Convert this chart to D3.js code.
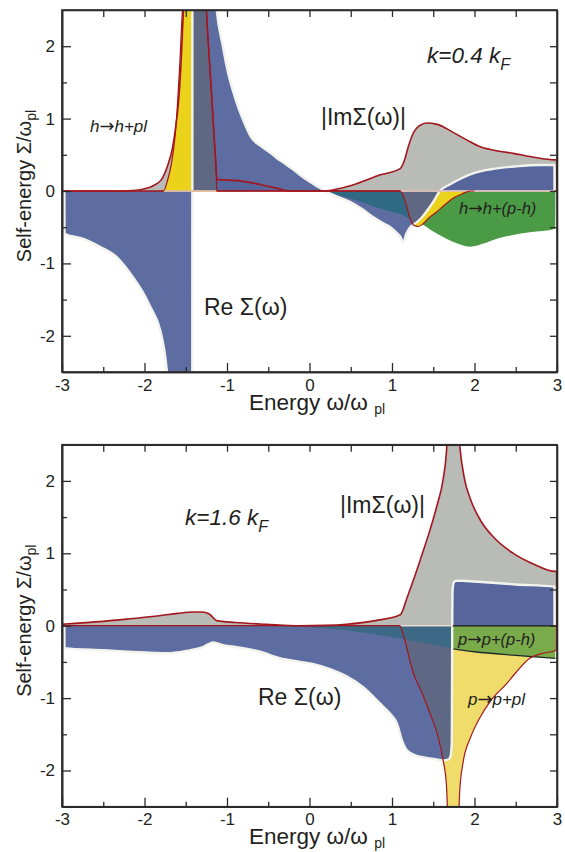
<!DOCTYPE html>
<html><head><meta charset="utf-8">
<script src="https://cdn.jsdelivr.net/npm/d3@7"></script>
<style>
body{margin:0;background:#fff}
svg{display:block}
text{font-family:"Liberation Sans",Arial,Helvetica,sans-serif;fill:#231f20}
</style></head>
<body><svg id="c" width="565" height="852"></svg>
<script>
// ---------- tick values ----------
const xMajor = [-3,-2,-1,0,1,2,3];
const xMinor = [-2.5,-1.5,-0.5,0.5,1.5,2.5];
const yMajor = [-2,-1,0,1,2];
const yMinor = [-1.5,-0.5,0.5,1.5];

// ---------- panel 1: k = 0.4 kF ----------
// |Im Sigma| (total)
const im1W = [-3,-2.3,-2.1,-2.0,-1.9,-1.8,-1.72,-1.66,-1.62,-1.59,-1.56,-1.54,-1.52,-1.5,-1.27,-1.25,-1.2,-1.15,-1.13,-1.12,-0.84,-0.6,-0.4,-0.24,0.0,0.19,0.35,0.57,0.85,1.1,1.15,1.2,1.25,1.3,1.36,1.42,1.55,1.74,1.9,2.07,2.3,2.47,2.7,2.98,2.995,3.0];
const im1V = [0,0,0.01,0.03,0.07,0.15,0.35,0.6,0.9,1.2,1.7,2.2,2.7,3.0,3.0,2.5,1.57,0.64,0.26,0.16,0.14,0.09,0.04,0,0,0,0.03,0.10,0.22,0.31,0.42,0.62,0.78,0.87,0.92,0.94,0.92,0.81,0.71,0.61,0.55,0.52,0.47,0.43,0.43,0];
// h -> h + pl channel
const pl1W = [-1.8,-1.77,-1.72,-1.67,-1.63,-1.6,-1.57,-1.55,-1.53,-1.51,-1.27,-1.25,-1.2,-1.15,-1.13,-1.125,-1.1,1.1,1.14,1.18,1.22,1.26,1.32,1.38,1.44,1.54,1.64,1.74,1.85,1.95,2.0];
const pl1V = [0,0,0.15,0.4,0.75,1.2,1.8,2.3,2.7,3.0,3.0,2.5,1.57,0.64,0.26,0,0,0,-0.08,-0.22,-0.38,-0.47,-0.49,-0.45,-0.38,-0.29,-0.19,-0.10,-0.04,0,0];
// h -> h + (p-h) channel
const ph1W = [0.15,0.19,0.3,0.49,0.7,0.9,1.14,1.25,1.38,1.5,1.66,1.8,1.95,2.1,2.27,2.45,2.67,2.98,2.981];
const ph1V = [0,0,-0.04,-0.1,-0.18,-0.26,-0.34,-0.41,-0.47,-0.56,-0.66,-0.73,-0.77,-0.73,-0.66,-0.61,-0.57,-0.52,0];
// Re Sigma
const re1W = [-2.971,-2.97,-2.74,-2.54,-2.34,-2.14,-2.03,-1.93,-1.81,-1.76,-1.73,-1.71,-1.69,-1.421,-1.4205,-1.42,-1.4195,-1.419,-1.16,-1.125,-1.05,-1.0,-0.9,-0.8,-0.7,-0.6,-0.5,-0.4,-0.3,-0.2,-0.1,0.0,0.1,0.19,0.3,0.49,0.65,0.77,0.9,0.98,1.05,1.1,1.137,1.17,1.22,1.28,1.35,1.42,1.5,1.58,1.7,1.85,2.0,2.2,2.5,2.8,2.969,2.97];
const re1V = [0,-0.59,-0.66,-0.77,-0.91,-1.19,-1.38,-1.6,-1.92,-2.2,-2.47,-2.75,-3,-3,-2.6,0,2.6,3,3,2.5,2.0,1.7,1.28,0.97,0.73,0.63,0.55,0.46,0.38,0.30,0.21,0.13,0.06,0,-0.06,-0.15,-0.26,-0.36,-0.45,-0.5,-0.57,-0.63,-0.71,-0.6,-0.5,-0.45,-0.38,-0.28,-0.15,0,0.09,0.18,0.25,0.3,0.34,0.36,0.36,0];

// ---------- panel 2: k = 1.6 kF ----------
const im2W = [-3,-2.5,-2.14,-1.8,-1.6,-1.41,-1.3,-1.25,-1.2,-1.16,-1.125,-0.9,-0.52,-0.12,0.2,0.45,0.8,1.1,1.18,1.26,1.36,1.46,1.55,1.62,1.66,1.68,1.8,1.82,1.88,1.95,2.07,2.25,2.47,2.7,2.98,2.995,3.0];
const im2V = [0.02,0.06,0.10,0.14,0.17,0.19,0.19,0.18,0.15,0.10,0.07,0.045,0.02,0.0,0.005,0.02,0.07,0.15,0.38,0.63,0.97,1.32,1.68,2.02,2.4,2.8,2.8,2.5,2.02,1.75,1.46,1.2,1.0,0.86,0.75,0.75,0];
// p -> p + pl channel
const pl2W = [1.1,1.12,1.26,1.36,1.46,1.55,1.62,1.66,1.685,1.80,1.82,1.86,1.95,2.07,2.2,2.39,2.5,2.67,2.8,2.99,2.991];
const pl2V = [0,-0.06,-0.66,-0.92,-1.21,-1.5,-1.86,-2.2,-2.8,-2.8,-2.3,-1.9,-1.55,-1.26,-1.03,-0.8,-0.65,-0.45,-0.39,-0.34,0];
// p -> p + (p-h) channel
const ph2W = [-0.7,-0.3,0.0,0.5,1.0,1.5,1.74,2.0,2.5,2.98,2.981];
const ph2V = [0,-0.01,-0.02,-0.07,-0.16,-0.26,-0.32,-0.36,-0.41,-0.45,0];
// Re Sigma
const re2W = [-2.971,-2.97,-2.5,-2.0,-1.73,-1.5,-1.3,-1.166,-1.05,-0.92,-0.6,-0.36,-0.115,0.05,0.25,0.45,0.65,0.85,0.98,1.06,1.12,1.18,1.26,1.34,1.5,1.62,1.68,1.71,1.725,1.73,1.735,1.75,1.78,1.85,2.0,2.5,2.969,2.97];
const re2V = [0,-0.31,-0.34,-0.37,-0.38,-0.35,-0.3,-0.23,-0.27,-0.29,-0.36,-0.45,-0.50,-0.53,-0.6,-0.7,-0.85,-1.07,-1.22,-1.35,-1.58,-1.72,-1.78,-1.81,-1.84,-1.86,-1.85,-1.80,-1.6,0,0.5,0.6,0.62,0.62,0.61,0.57,0.54,0];

// ---------- drawing ----------
const pts = (w,v) => w.map((d,i)=>[d,v[i]]);
const svg = d3.select('#c');
const defs = svg.append('defs');
const X0 = 62, X1 = 557;
const x = d3.scaleLinear().domain([-3,3]).range([X0,X1]);
const RED = '#a3161d', WHITE = '#f3f3ee', INK = '#2b2b2b';

function addLabel(g, L){
  const t = g.append('text').attr('x',L.x).attr('y',L.y).attr('font-size',L.size)
    .attr('font-style',L.italic?'italic':'normal');
  const parts = L.text.split('\u2192');
  parts.forEach((p,i)=>{
    if(i>0) t.append('tspan').attr('font-family','"DejaVu Sans",sans-serif').attr('font-style','normal')
      .attr('font-size',L.size*1.05).text('\u2192');
    t.append('tspan').text(p);
  });
  if(L.sub) t.append('tspan').attr('font-size',L.size*0.72).attr('dy',L.size*0.3).text(L.sub);
}

function panel(cfg){
  const y = d3.scaleLinear().domain([-2.5,2.5]).range([cfg.bottom,cfg.top]);
  const ar = d3.area().x(d=>x(d[0])).y0(y(0)).y1(d=>y(d[1])).curve(d3.curveMonotoneX);
  const ln = d3.line().x(d=>x(d[0])).y(d=>y(d[1])).curve(d3.curveMonotoneX);
  defs.append('clipPath').attr('id','plot'+cfg.id).append('rect')
    .attr('x',X0).attr('y',cfg.top).attr('width',X1-X0).attr('height',cfg.bottom-cfg.top);
  const blueD = ar(cfg.re);
  defs.append('clipPath').attr('id','blue'+cfg.id).append('path').attr('d',blueD);
  const g = svg.append('g');
  const pg = g.append('g').attr('clip-path',`url(#plot${cfg.id})`);
  cfg.layers.forEach(L=>pg.append('path').attr('d',ar(L.data)).attr('fill',L.fill));
  pg.append('path').attr('d',blueD).attr('fill',cfg.blue);
  const og = pg.append('g').attr('clip-path',`url(#blue${cfg.id})`);
  cfg.layers.forEach(L=>og.append('path').attr('d',ar(L.data)).attr('fill',L.over));
  // outlines
  if(cfg.greenEdge){
    pg.append('path').attr('d',ln(cfg.greenEdge)).attr('fill','none').attr('stroke','#1e2a2a').attr('stroke-width',1.3);
  }
  pg.append('path').attr('d',ln(cfg.re)).attr('fill','none').attr('stroke',WHITE).attr('stroke-width',2.4).attr('stroke-linejoin','round');
  pg.append('line').attr('x1',x(-3)).attr('x2',x(3)).attr('y1',y(0)).attr('y2',y(0)).attr('stroke',RED).attr('stroke-width',1.3);
  cfg.zeroSegs.forEach(s=>pg.append('line').attr('x1',x(s[0])).attr('x2',x(s[1])).attr('y1',y(0)).attr('y2',y(0)).attr('stroke',s[2]).attr('stroke-width',1.6));
  pg.append('path').attr('d',ln(cfg.pl)).attr('fill','none').attr('stroke',RED).attr('stroke-width',1.2);
  pg.append('path').attr('d',ln(cfg.im)).attr('fill','none').attr('stroke',RED).attr('stroke-width',1.6);

  // axes
  const bottom = g.append('g').attr('transform',`translate(0,${cfg.bottom})`);
  bottom.call(d3.axisBottom(x).tickValues(xMajor).tickSize(-9).tickSizeOuter(0).tickPadding(6.5).tickFormat(d=>String(d)));
  bottom.append('g').call(d3.axisBottom(x).tickValues(xMinor).tickSize(-5).tickSizeOuter(0).tickFormat(''));
  const left = g.append('g').attr('transform',`translate(${X0},0)`);
  left.call(d3.axisLeft(y).tickValues(yMajor).tickSize(-9).tickSizeOuter(0).tickPadding(7).tickFormat(d=>String(d)));
  left.append('g').call(d3.axisLeft(y).tickValues(yMinor).tickSize(-5).tickSizeOuter(0).tickFormat(''));
  g.append('g').attr('transform',`translate(0,${cfg.top})`)
    .call(d3.axisTop(x).tickValues(xMajor.concat(xMinor).filter(v=>v>-3&&v<3)).tickSize(-7).tickSizeOuter(0).tickFormat(''));
  g.append('g').attr('transform',`translate(${X1},0)`)
    .call(d3.axisRight(y).tickValues(yMajor.concat(yMinor)).tickSize(-7).tickSizeOuter(0).tickFormat(''));
  g.selectAll('.domain').attr('stroke',INK).attr('stroke-width',1.6);
  g.selectAll('.tick line').attr('stroke',INK).attr('stroke-width',1.3);
  g.selectAll('.tick text').attr('font-size',17).attr('font-family','"Liberation Sans",Arial,sans-serif').attr('fill','#231f20');
  g.append('rect').attr('x',X0).attr('y',cfg.top).attr('width',X1-X0).attr('height',cfg.bottom-cfg.top)
    .attr('fill','none').attr('stroke',INK).attr('stroke-width',1.6);

  // axis titles
  const xt = g.append('text').attr('x',317).attr('y',cfg.bottom+37.5).attr('text-anchor','middle').attr('font-size',22.5);
  xt.append('tspan').text('Energy \u03c9/\u03c9 ');
  xt.append('tspan').attr('font-size',14).attr('dy',4).text('pl');
  const ymid = (cfg.top+cfg.bottom)/2 - 5;
  const yt = g.append('text').attr('transform',`translate(31,${ymid}) rotate(-90)`).attr('text-anchor','middle').attr('font-size',20);
  yt.append('tspan').text('Self-energy \u03a3/\u03c9');
  yt.append('tspan').attr('font-size',14).attr('dy',4.5).text('pl');

  cfg.labels.forEach(L=>addLabel(g,L));
}

panel({id:1, top:10, bottom:372,
  re: pts(re1W,re1V), im: pts(im1W,im1V), pl: pts(pl1W,pl1V),
  blue:'#5e6da1',
  layers:[
    {data:pts(im1W,im1V), fill:'#b8bbb6', over:'#56659b'},
    {data:pts(ph1W,ph1V), fill:'#4b9b46', over:'#2f6a82'},
    {data:pts(pl1W,pl1V), fill:'#ebd31c', over:'#5e6882'}
  ],
  zeroSegs:[[-1.77,-1.125,'#f1e9c0'],[1.1,2.97,'#ecebe2']],
  labels:[
    {x:427,y:63,size:22.5,italic:true,text:'k=0.4 k',sub:'F'},
    {x:321,y:125,size:23,text:'|Im\u03a3(\u03c9)|'},
    {x:90,y:131.5,size:17,italic:true,text:'h\u2192h+pl'},
    {x:204,y:315,size:23,text:'Re \u03a3(\u03c9)'},
    {x:459,y:214,size:16.5,italic:true,text:'h\u2192h+(p-h)'}
  ]
});

panel({id:2, top:444.7, bottom:806.7,
  re: pts(re2W,re2V), im: pts(im2W,im2V), pl: pts(pl2W,pl2V),
  blue:'#5e6da1',
  greenEdge: pts(ph2W,ph2V).filter(d=>d[0]>=1.74 && d[0]<2.981),
  layers:[
    {data:pts(im2W,im2V), fill:'#b8bbb6', over:'#56659b'},
    {data:pts(pl2W,pl2V), fill:'#efdc6b', over:'#5e6784'},
    {data:pts(ph2W,ph2V), fill:'#7aab4b', over:'#3c6a86'}
  ],
  zeroSegs:[[1.1,1.74,'#e2e2dc'],[1.74,2.98,'#2a3030']],
  labels:[
    {x:185,y:525,size:22.5,italic:true,text:'k=1.6 k',sub:'F'},
    {x:340,y:513,size:23,text:'|Im\u03a3(\u03c9)|'},
    {x:258,y:705,size:23,text:'Re \u03a3(\u03c9)'},
    {x:458,y:645,size:16.5,italic:true,text:'p\u2192p+(p-h)'},
    {x:468,y:705,size:17,italic:true,text:'p\u2192p+pl'}
  ]
});
</script>
</body></html>
